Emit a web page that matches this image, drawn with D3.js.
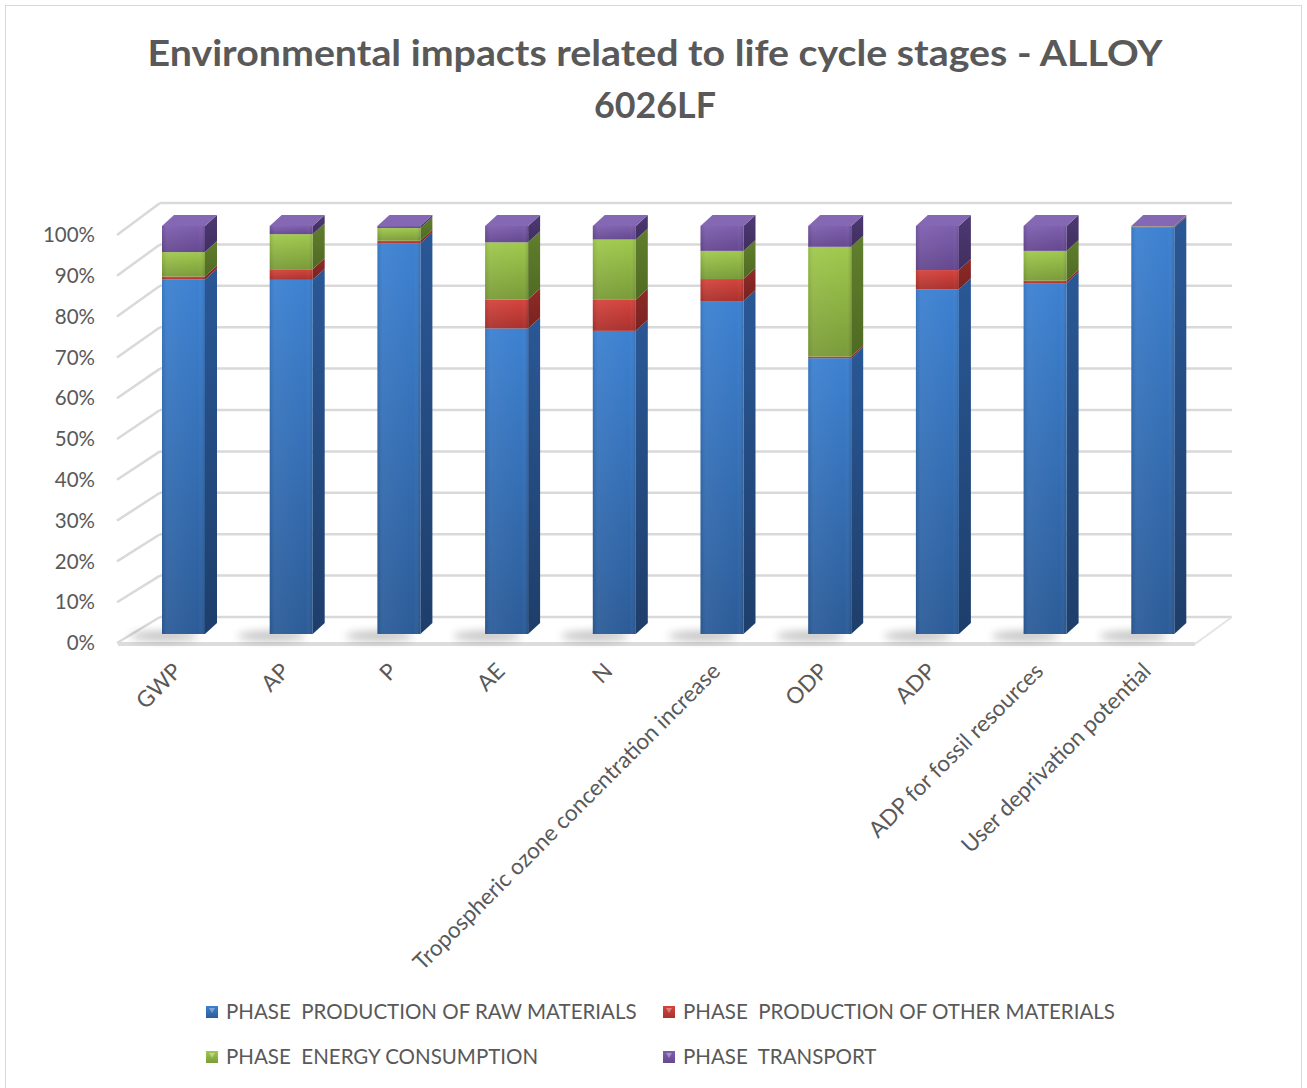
<!DOCTYPE html>
<html>
<head>
<meta charset="utf-8">
<script src="https://d3js.org/d3.v7.min.js"></script>
<style>
  html, body { margin: 0; padding: 0; background: #ffffff; }
  svg { display: block; }
  text { white-space: pre; }
</style>
</head>
<body>
<svg id="chart" width="1307" height="1088"></svg>
<script>
// Impact categories (x axis)
const categories = [
  "GWP", "AP", "P", "AE", "N",
  "Tropospheric ozone concentration increase",
  "ODP", "ADP", "ADP for fossil resources", "User deprivation potential"
];

// Share of each life cycle phase, in percent
const rawMaterials   = [86.9, 86.8, 95.8, 74.9, 74.3, 81.6, 67.6, 84.5, 86.0, 99.6];
const otherMaterials = [ 0.7,  2.6,  0.6,  7.1,  7.6,  5.4,  0.4,  4.7,  0.6,  0.2];
const energy         = [ 6.0,  8.6,  3.1, 14.0, 14.8,  6.9, 26.9,  0.0,  7.3,  0.1];
const transport      = [ 6.4,  2.0,  0.5,  4.0,  3.3,  6.1,  5.1, 10.8,  6.1,  0.1];

const seriesNames = [
  "PHASE  PRODUCTION OF RAW MATERIALS",
  "PHASE  PRODUCTION OF OTHER MATERIALS",
  "PHASE  ENERGY CONSUMPTION",
  "PHASE  TRANSPORT"
];
const seriesKeys = ["raw", "other", "energy", "transport"];
const yTicks = [0, 0.1, 0.2, 0.3, 0.4, 0.5, 0.6, 0.7, 0.8, 0.9, 1];

const title = ["Environmental impacts related to life cycle stages - ALLOY", "6026LF"];

// Face colours per series: front (top, bottom), side (top, bottom)
const palette = {
  raw:       { f0: "#3d81d1", f1: "#2c5c98", s0: "#2a5896", s1: "#1e3e6a" },
  other:     { f0: "#d5443e", f1: "#aa312d", s0: "#8f2b28", s1: "#782320" },
  energy:    { f0: "#a0c94d", f1: "#7a9b39", s0: "#617f2d", s1: "#4f6a23" },
  transport: { f0: "#7e5fae", f1: "#654890", s0: "#4e3974", s1: "#3f2f5e" }
};
const topFace = "#8468b3";

const rows = categories.map((c, i) => ({
  category: c,
  raw: rawMaterials[i],
  other: otherMaterials[i],
  energy: energy[i],
  transport: transport[i]
}));

const svg = d3.select("#chart");
const defs = svg.append("defs");
const font = "Lato, 'Open Sans', 'Noto Sans', sans-serif";
const textColor = "#595959";

// gradients
seriesKeys.forEach(k => {
  const p = palette[k];
  const gf = defs.append("linearGradient").attr("id", "front-" + k)
    .attr("x1", 0).attr("y1", 0).attr("x2", 0).attr("y2", 1);
  gf.append("stop").attr("offset", "0%").attr("stop-color", p.f0);
  gf.append("stop").attr("offset", "100%").attr("stop-color", p.f1);
  const gs = defs.append("linearGradient").attr("id", "side-" + k)
    .attr("x1", 0).attr("y1", 0).attr("x2", 0).attr("y2", 1);
  gs.append("stop").attr("offset", "0%").attr("stop-color", p.s0);
  gs.append("stop").attr("offset", "100%").attr("stop-color", p.s1);
});
// horizontal sheen across the front face
const gh = defs.append("linearGradient").attr("id", "sheen")
  .attr("x1", 0).attr("y1", 0).attr("x2", 1).attr("y2", 0);
gh.append("stop").attr("offset", "0%").attr("stop-color", "#000").attr("stop-opacity", 0.08);
gh.append("stop").attr("offset", "12%").attr("stop-color", "#fff").attr("stop-opacity", 0.05);
gh.append("stop").attr("offset", "85%").attr("stop-color", "#fff").attr("stop-opacity", 0.0);
gh.append("stop").attr("offset", "100%").attr("stop-color", "#000").attr("stop-opacity", 0.12);

defs.append("filter").attr("id", "blur").attr("x", "-50%").attr("y", "-200%")
  .attr("width", "200%").attr("height", "500%")
  .append("feGaussianBlur").attr("stdDeviation", 4);

// chart frame
svg.append("rect")
  .attr("x", 5.5).attr("y", 5.5).attr("width", 1296).attr("height", 1100)
  .attr("fill", "#fff").attr("stroke", "#d9d9d9").attr("stroke-width", 1);

// title
svg.append("g").selectAll("text").data(title).join("text")
  .attr("x", 655).attr("y", (d, i) => 66 + i * 52)
  .attr("text-anchor", "middle")
  .attr("font-family", font).attr("font-weight", 700)
  .attr("font-size", 36).attr("fill", textColor)
  .each(function (d, i) {
    if (i === 0) d3.select(this).attr("textLength", 1015).attr("lengthAdjust", "spacingAndGlyphs");
    else d3.select(this).attr("textLength", 122).attr("lengthAdjust", "spacingAndGlyphs");
  })
  .text(d => d);

// scales: front plane (axis labels), back wall (gridlines), bar front faces
const x = d3.scaleBand().domain(categories).range([118, 1195]);
const yFront = d3.scaleLinear().domain([0, 1]).range([643, 235]);
const yBack  = d3.scaleLinear().domain([0, 1]).range([617, 203]);
const yBar   = d3.scaleLinear().domain([0, 1]).range([634, 226]);
const wallX0 = 117, wallX1 = 160, backRight = 1232;
const barOffset = 44, barW = 43, depthX = 12, depthY = 11;

// gridlines on back wall and left wall
const grid = svg.append("g").attr("stroke", "#d9d9d9").attr("stroke-width", 2.5).attr("fill", "none");
grid.selectAll("line.back").data(yTicks).join("line").attr("class", "back")
  .attr("x1", wallX1).attr("x2", backRight)
  .attr("y1", d => yBack(d)).attr("y2", d => yBack(d));
grid.selectAll("line.side").data(yTicks).join("line").attr("class", "side")
  .attr("x1", wallX0).attr("y1", d => yFront(d))
  .attr("x2", wallX1).attr("y2", d => yBack(d));

// floor front edge and right edge
svg.append("line")
  .attr("x1", 118).attr("x2", 1195).attr("y1", yFront(0) + 1).attr("y2", yFront(0) + 1)
  .attr("stroke", "#dcdcdc").attr("stroke-width", 4);
svg.append("line")
  .attr("x1", 1195).attr("y1", yFront(0) + 1).attr("x2", backRight).attr("y2", yBack(0))
  .attr("stroke", "#e4e4e4").attr("stroke-width", 2);

// y axis labels
svg.append("g").selectAll("text").data(yTicks).join("text")
  .attr("x", 95).attr("y", d => yFront(d)).attr("dy", "0.35em")
  .attr("text-anchor", "end")
  .attr("font-family", font).attr("font-size", 20.5).attr("fill", textColor)
  .text(d => d3.format(".0%")(d));

// stacked series normalized to 100 %
const stack = d3.stack().keys(seriesKeys).offset(d3.stackOffsetExpand);
const stacked = stack(rows);

// floor shadows
svg.append("g").selectAll("ellipse").data(categories).join("ellipse")
  .attr("cx", c => x(c) + barOffset + 2).attr("cy", yBar(0) + 2)
  .attr("rx", 34).attr("ry", 5)
  .attr("fill", "#000").attr("opacity", 0.24)
  .attr("filter", "url(#blur)");

// bars
const bars = svg.append("g");
categories.forEach((c, ci) => {
  const bx = x(c) + barOffset;
  const g = bars.append("g");
  stacked.forEach(s => {
    const d = s[ci];
    if (d[1] - d[0] <= 0) return;
    const yt = yBar(d[1]), yb = yBar(d[0]);
    // side face
    g.append("path")
      .attr("d", `M${bx + barW},${yt} L${bx + barW + depthX},${yt - depthY} L${bx + barW + depthX},${yb - depthY} L${bx + barW},${yb} Z`)
      .attr("fill", `url(#side-${s.key})`);
    // front face
    g.append("rect")
      .attr("x", bx).attr("y", yt).attr("width", barW).attr("height", yb - yt)
      .attr("fill", `url(#front-${s.key})`);
    g.append("rect")
      .attr("x", bx).attr("y", yt).attr("width", barW).attr("height", yb - yt)
      .attr("fill", "url(#sheen)");
  });
  // top face
  const yt = yBar(1);
  g.append("path")
    .attr("d", `M${bx},${yt} L${bx + depthX},${yt - depthY} L${bx + barW + depthX},${yt - depthY} L${bx + barW},${yt} Z`)
    .attr("fill", topFace);
});

// x axis labels, rotated
svg.append("g").selectAll("text").data(categories).join("text")
  .attr("transform", c => `translate(${x(c) + barOffset + barW / 2 - 6},${667}) rotate(-45)`)
  .attr("text-anchor", "end").attr("dy", "0.35em")
  .attr("font-family", font).attr("font-size", 22.5).attr("fill", textColor)
  .text(c => c);

// legend
const legendPos = [[206, 1012], [663, 1012], [206, 1057], [663, 1057]];
const legend = svg.append("g").selectAll("g").data(seriesKeys).join("g")
  .attr("transform", (k, i) => `translate(${legendPos[i][0]},${legendPos[i][1]})`);
legend.append("rect")
  .attr("x", 0).attr("y", -6).attr("width", 12).attr("height", 12)
  .attr("fill", k => `url(#front-${k})`);
legend.append("path")
  .attr("d", "M3,-4 L9,-4 L6,1 Z")
  .attr("fill", "#fff").attr("opacity", 0.35);
legend.append("text")
  .attr("x", 20).attr("dy", "0.35em")
  .attr("font-family", font).attr("font-size", 20.5).attr("fill", textColor)
  .text((k, i) => seriesNames[i]);
</script>
</body>
</html>
